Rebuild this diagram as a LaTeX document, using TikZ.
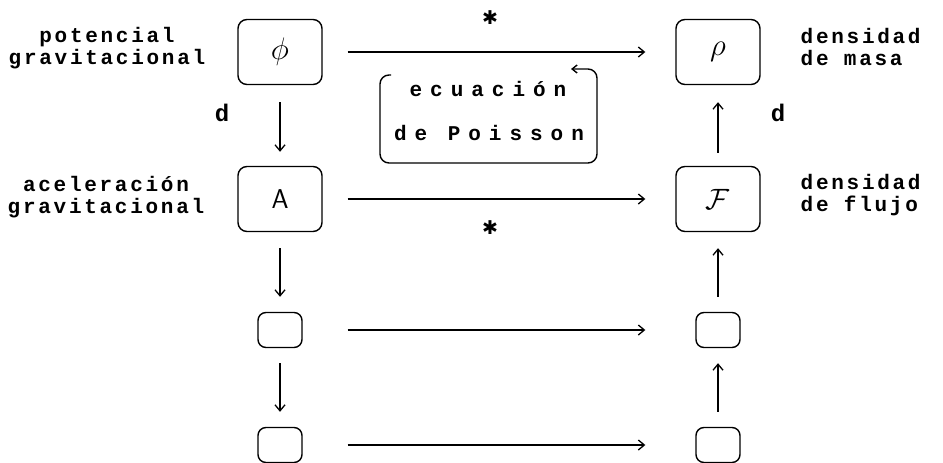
\documentclass[tikz,border=0pt]{standalone}
\usepackage{fontspec}
\newfontfamily\lblfont[LetterSpace=13]{Liberation Mono Bold}
\newfontfamily\eqfont[LetterSpace=38]{Liberation Mono Bold}
\newfontfamily\dfont{Liberation Mono Bold}
\newfontfamily\starfont{DejaVu Sans}
\usetikzlibrary{arrows.meta}

\begin{document}
\begin{tikzpicture}[x=1pt, y=-1pt, line width=1.4pt,
  bigbox/.style={draw, rounded corners=9pt, minimum width=84pt, minimum height=65pt,
                 inner sep=0pt, font=\fontsize{17}{20}\selectfont},
  smallbox/.style={draw, rounded corners=8pt, minimum width=44pt, minimum height=35pt, inner sep=0pt},
  lab/.style={font=\lblfont\fontsize{21}{22}\selectfont, inner sep=0pt},
  eqlab/.style={font=\eqfont\fontsize{21}{22}\selectfont, inner sep=0pt},
  dlab/.style={font=\dfont\fontsize{24}{26}\selectfont, inner sep=0pt},
  starlab/.style={font=\starfont\fontsize{19}{20}\selectfont, inner sep=0pt},
  link/.style={-{Straight Barb[length=6pt,width=10pt]}, line width=1.3pt}]

  \fill[white] (0,0) rectangle (943,463);
  \useasboundingbox (0,0) rectangle (943,463);

  % left column
  \node[bigbox] (phi) at (280,52) {\scalebox{1.8}{$\phi$}};
  \node[bigbox] (acc) at (280,199) {\scalebox{1.6}{\fontfamily{lmss}\selectfont A}};
  \node[smallbox] (s1) at (280,330) {};
  \node[smallbox] (s2) at (280,445) {};

  % right column
  \node[bigbox] (rho) at (718,52) {\scalebox{1.8}{$\rho$}};
  \node[bigbox] (flux) at (718,199) {\scalebox{1.7}{$\mathcal{F}$}};
  \node[smallbox] (t1) at (718,330) {};
  \node[smallbox] (t2) at (718,445) {};

  % side labels
  \node[lab, align=center] (lphi) at (107,48) {potencial\\gravitacional};
  \node[lab, align=center] (lacc) at (106,197) {aceleración\\gravitacional};
  \node[lab, align=left, anchor=west] (lrho) at (800,47) {densidad\\de masa};
  \node[lab, align=left, anchor=west] (lflux) at (800,195) {densidad\\de flujo};

  \node[dlab] (dl) at (222,113) {d};
  \node[dlab] (dr) at (778,113) {d};

  \node[starlab] (st1) at (490,18) {✱};
  \node[starlab] (st2) at (490,228) {✱};

  % Poisson equation bracket
  \node[eqlab] (eq1) at (488,89) {ecuación};
  \node[eqlab] (eq2) at (489,133) {de Poisson};
  \draw[rounded corners=9pt, -{Straight Barb[length=5pt,width=8pt]}, line width=1.4pt]
    (391,75) -- (380,75) -- (380,163) -- (597,163) -- (597,69) -- (571,69);

  % horizontal maps
  \draw[link, shorten <=25pt, shorten >=30pt] (phi) -- (rho);
  \draw[link, shorten <=25pt, shorten >=30pt] (acc) -- (flux);
  \draw[link, shorten <=45pt, shorten >=50pt] (s1) -- (t1);
  \draw[link, shorten <=45pt, shorten >=50pt] (s2) -- (t2);

  % vertical maps
  \draw[link, shorten <=17pt, shorten >=14pt] (phi) -- (acc);
  \draw[link, shorten <=16pt, shorten >=15pt] (acc) -- (s1);
  \draw[link, shorten <=15pt, shorten >=15pt] (s1) -- (s2);
  \draw[link, shorten <=13pt, shorten >=17pt] (flux) -- (rho);
  \draw[link, shorten <=15pt, shorten >=16pt] (t1) -- (flux);
  \draw[link, shorten <=15pt, shorten >=15pt] (t2) -- (t1);
\end{tikzpicture}
\end{document}
